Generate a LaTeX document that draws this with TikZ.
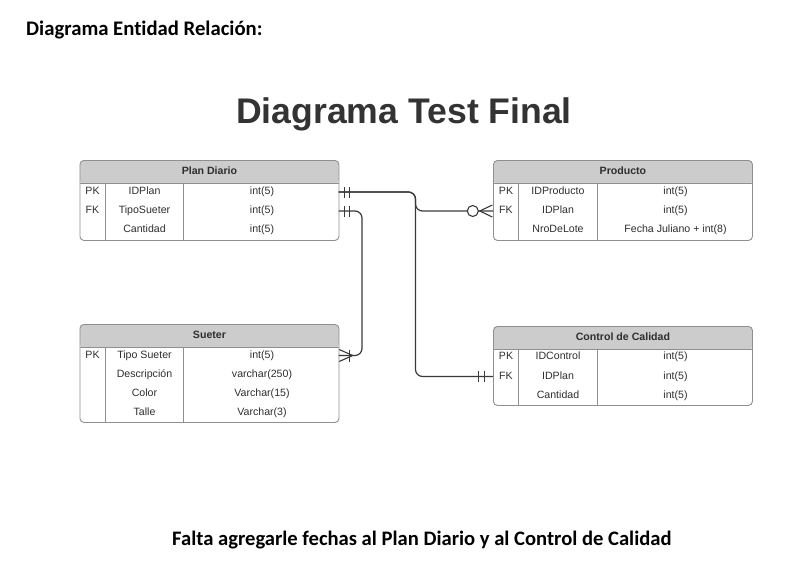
\documentclass[tikz,border=0pt]{standalone}
\usepackage{fontspec}
\setmainfont{Liberation Sans}
\newfontfamily\calfont[Ligatures=NoCommon]{Carlito}
\definecolor{headgray}{HTML}{CCCCCC}
\definecolor{framegray}{HTML}{8F8F8F}
\definecolor{linedark}{HTML}{3A3A3A}
\definecolor{titlegray}{HTML}{333333}
\definecolor{textgray}{HTML}{2E2E2E}
\tikzset{
  tabframe/.style={draw=framegray, line width=0.9pt, rounded corners=4pt, inner sep=0pt,
    minimum width=259pt, anchor=north west,
    path picture={\fill[headgray] (path picture bounding box.north west) rectangle ([yshift=-23.5pt]path picture bounding box.north east);}},
  tabhead/.style={font=\fontsize{10.6}{12}\selectfont\bfseries, text=textgray, inner sep=0pt,
    text height=7.6pt, text depth=2.2pt},
  celltext/.style={font=\fontsize{10.6}{12}\selectfont, text=textgray, inner sep=0pt,
    text height=7.6pt, text depth=2.2pt},
  rowbox/.style={minimum width=259pt, minimum height=18pt, inner sep=0pt},
  divider/.style={draw=framegray, line width=0.9pt},
  conn/.style={draw=linedark, line width=1.2pt, rounded corners=7pt},
  ermark/.style={draw=linedark, line width=1.1pt},
}
% \ERtable{id}{x0}{ytop}{height}{title}
\newcommand\ERtable[5]{%
  \node[tabframe, minimum height=#4pt] (#1) at (#2,#3) {};
  \draw[divider] ([yshift=-23.5pt]#1.north west) -- ([yshift=-23.5pt]#1.north east);
  \draw[divider] ([xshift=25.5pt,yshift=-23.5pt]#1.north west) -- ([xshift=25.5pt]#1.south west);
  \draw[divider] ([xshift=104pt,yshift=-23.5pt]#1.north west) -- ([xshift=104pt]#1.south west);
  \node[tabhead] (#1h) at ([yshift=-11.5pt]#1.north) {#5};
}
% \ERrow{id}{x0}{y}{key}{field}{type}
\newcommand\ERrow[6]{%
  \node[rowbox] (#1) at (#2+129.5,#3) {};
  \node[celltext] (#1k) at (#2+13,#3) {#4};
  \node[celltext] (#1n) at (#2+65,#3) {#5};
  \node[celltext] (#1t) at (#2+182.5,#3) {#6};
}
\begin{document}
\begin{tikzpicture}[x=1pt,y=-1pt]
\useasboundingbox (0,0) rectangle (789,586);

\node[anchor=base west, inner sep=0pt, font=\calfont\fontsize{20.7}{24}\selectfont\bfseries] (heading) at (26,36) {Diagrama Entidad Relación:};
\node[anchor=base, inner sep=0pt, font=\fontsize{35.6}{40}\selectfont\bfseries, text=titlegray] (title) at (404,123) {Diagrama Test Final};
\node[anchor=base west, inner sep=0pt, font=\calfont\fontsize{20.6}{24}\selectfont\bfseries] (footer) at (172,545) {Falta agregarle fechas al Plan Diario y al Control de Calidad};

% Plan Diario
\ERtable{pd}{79.5}{160}{80}{Plan Diario}
\ERrow{pd1}{79.5}{192}{PK}{IDPlan}{int(5)}
\ERrow{pd2}{79.5}{211}{FK}{TipoSueter}{int(5)}
\ERrow{pd3}{79.5}{229.5}{}{Cantidad}{int(5)}

% Producto
\ERtable{pr}{493}{160}{80}{Producto}
\ERrow{pr1}{493}{192}{PK}{IDProducto}{int(5)}
\ERrow{pr2}{493}{211}{FK}{IDPlan}{int(5)}
\ERrow{pr3}{493}{229.5}{}{NroDeLote}{Fecha Juliano + int(8)}

% Sueter
\ERtable{su}{79.5}{324}{98}{Sueter}
\ERrow{su1}{79.5}{355.5}{PK}{Tipo Sueter}{int(5)}
\ERrow{su2}{79.5}{374.5}{}{Descripción}{varchar(250)}
\ERrow{su3}{79.5}{393.5}{}{Color}{Varchar(15)}
\ERrow{su4}{79.5}{412.5}{}{Talle}{Varchar(3)}

% Control de Calidad
\ERtable{cc}{493}{326}{79}{Control de Calidad}
\ERrow{cc1}{493}{357}{PK}{IDControl}{int(5)}
\ERrow{cc2}{493}{376.5}{FK}{IDPlan}{int(5)}
\ERrow{cc3}{493}{395.5}{}{Cantidad}{int(5)}

% bus coordinates
\coordinate (busA) at (415.5,0);
\coordinate (busB) at (362,0);

% connectors
\draw[conn] (pd1.east) -- (busA |- pd1.east) -- (busA |- pr2.west) -- (pr2.west);
\draw[conn] (pd1.east) -- (busA |- pd1.east) -- (busA |- cc2.west) -- (cc2.west);
\draw[conn] (pd2.east) -- (busB |- pd2.east) -- (busB |- su1.east) -- (su1.east);

% markers: one and only one at Plan Diario
\foreach \r in {pd1,pd2}{
  \draw[ermark] ([xshift=6pt,yshift=-5.5pt]\r.east) -- ([xshift=6pt,yshift=5.5pt]\r.east);
  \draw[ermark] ([xshift=11pt,yshift=-5.5pt]\r.east) -- ([xshift=11pt,yshift=5.5pt]\r.east);
}
% one and only one at Control de Calidad
\draw[ermark] ([xshift=-14pt,yshift=-5.5pt]cc2.west) -- ([xshift=-14pt,yshift=5.5pt]cc2.west);
\draw[ermark] ([xshift=-8pt,yshift=-5.5pt]cc2.west) -- ([xshift=-8pt,yshift=5.5pt]cc2.west);
% zero or many at Producto
\draw[ermark, fill=white] ([xshift=-20pt]pr2.west) circle[radius=5.5pt];
\draw[ermark] ([xshift=-0.5pt,yshift=-6pt]pr2.west) -- ([xshift=-13pt]pr2.west) -- ([xshift=-0.5pt,yshift=6pt]pr2.west);
% one or many at Sueter
\draw[ermark] ([xshift=0.5pt,yshift=-6pt]su1.east) -- ([xshift=14pt]su1.east) -- ([xshift=0.5pt,yshift=6pt]su1.east);
\draw[ermark] ([xshift=11pt,yshift=-6pt]su1.east) -- ([xshift=11pt,yshift=6pt]su1.east);
\end{tikzpicture}
\end{document}
